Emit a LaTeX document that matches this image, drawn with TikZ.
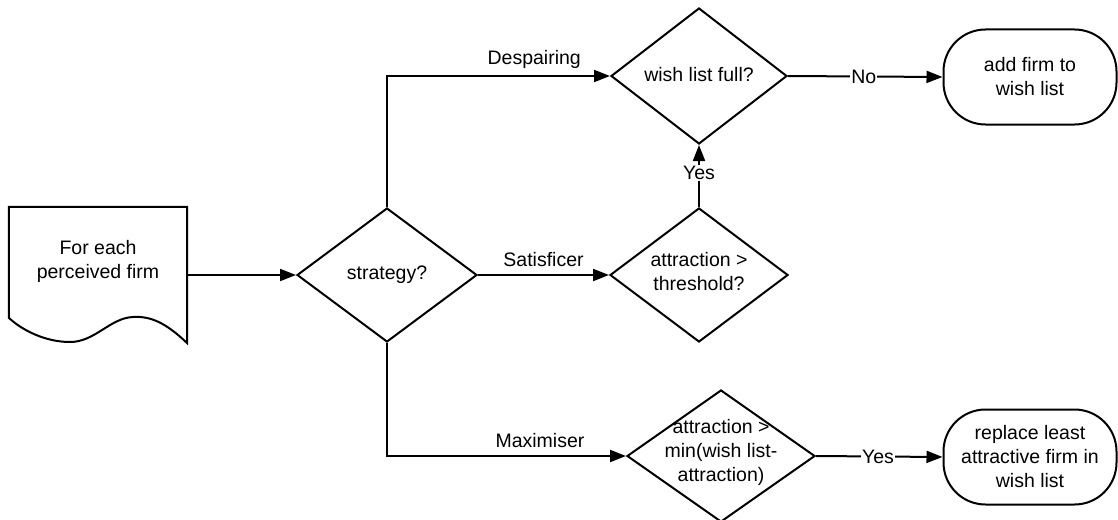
\documentclass[tikz,border=0pt]{standalone}
\usepackage{fontspec}
\setmainfont{Liberation Sans}
\usetikzlibrary{shapes.geometric,arrows.meta}
\begin{document}
\begin{tikzpicture}[x=1pt,y=-1pt,
  every node/.style={font=\fontsize{19.5}{24}\selectfont},
  base/.style={draw=black,line width=2pt},
  dia/.style={base,diamond,inner sep=0pt},
  term/.style={base,rectangle,rounded corners=42pt,inner sep=0pt,minimum width=173pt,minimum height=95pt,align=center},
  conn/.style={line width=2pt},
  arr/.style={conn,-{Triangle[length=16pt,width=12pt]}},
  lbl/.style={inner sep=1pt},
  onl/.style={fill=white,inner sep=1pt}
]
\useasboundingbox (0,0) rectangle (1118,519);
% document shape
\node[minimum width=178pt,minimum height=136pt,inner sep=0pt] (doc) at (98,275) {};
\node[align=center] (doctext) at (98,261) {For each\\perceived firm};
\draw[base,line join=miter] (doc.north west) -- (doc.north east) -- (187,343)
  .. controls (165,322) and (150,316) .. (133,317)
  .. controls (110,318) and (95,342) .. (70,342)
  .. controls (45,342) and (22,330) .. (9,318) -- cycle;
% decisions
\node[dia,minimum width=180pt,minimum height=134pt] (strat) at (387,275) {};
\node (strattext) at (387,275) {strategy?};
\node[dia,minimum width=178pt,minimum height=134pt] (thr) at (699,275) {};
\node[align=center] (thrtext) at (699,272) {attraction >\\threshold?};
\node[dia,minimum width=176pt,minimum height=136pt] (wish) at (699,76) {};
\node (wishtext) at (699,75) {wish list full?};
\node[dia,minimum width=188pt,minimum height=132pt] (max) at (721,456) {};
\node[align=center] (maxtext) at (721,452) {attraction >\\min(wish list-\\attraction)};
% terminals
\node[term] (add) at (1030,77) {add firm to\\wish list};
\node[term] (rep) at (1030,457) {replace least\\attractive firm in\\wish list};
% connectors
\draw[arr] (doc.east) -- (strat.west);
\draw[arr] (strat.north) |- (wish.west) node[lbl,pos=0.83,above=5pt] {Despairing};
\draw[arr] (strat.east) -- (thr.west) node[lbl,midway,above=6pt] {Satisficer};
\draw[arr] (strat.south) |- (max.west) node[lbl,pos=0.82,above=6pt] {Maximiser};
\draw[arr] (thr.north) -- (wish.south) node[onl,pos=0.55] {Yes};
\draw[arr] (wish.east) -- (add.west) node[onl,pos=0.49] {No};
\draw[arr] (max.east) -- (rep.west) node[onl,pos=0.49] {Yes};
\end{tikzpicture}
\end{document}
